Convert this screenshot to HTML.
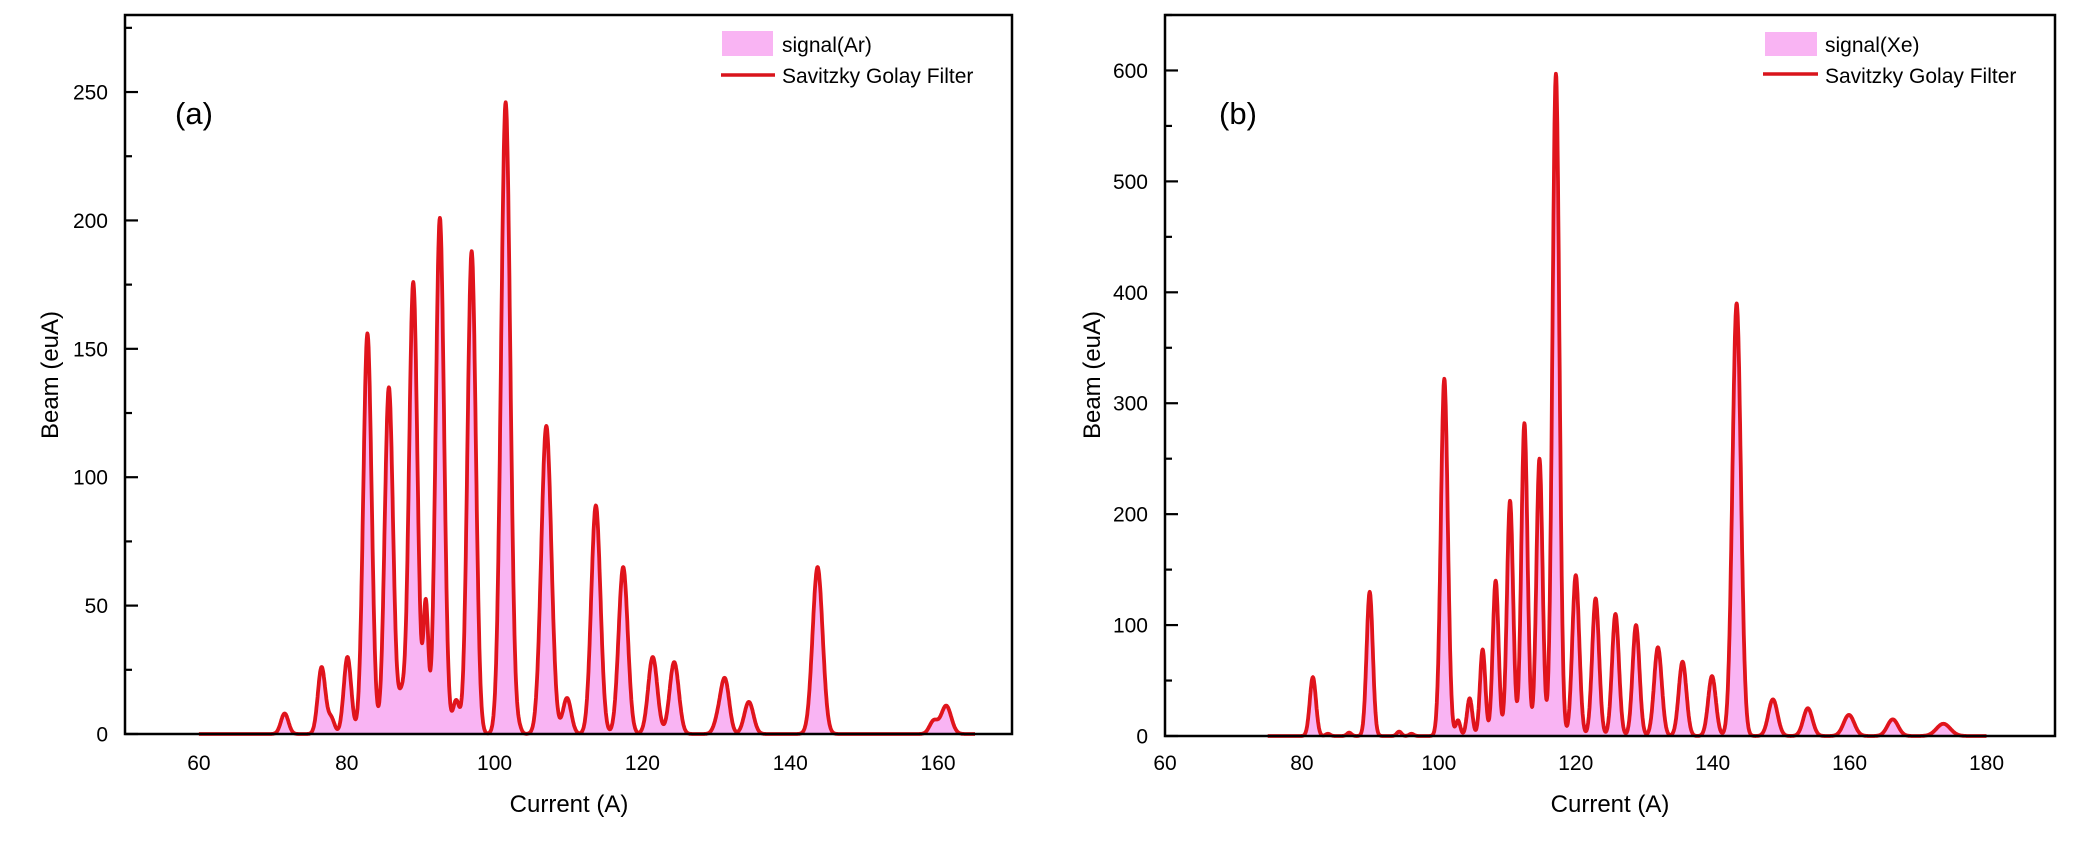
<!DOCTYPE html>
<html><head><meta charset="utf-8"><style>
html,body{margin:0;padding:0;background:#fff;}
svg{display:block;font-family:"Liberation Sans",Arial,sans-serif;}
</style></head><body>
<svg id="s" width="2089" height="843" viewBox="0 0 2089 843" xmlns="http://www.w3.org/2000/svg">
<rect width="2089" height="843" fill="#fff"/>
<g id="g"></g>
<text x="569" y="812" font-size="24" text-anchor="middle">Current (A)</text>
<text x="1610" y="812" font-size="24" text-anchor="middle">Current (A)</text>
<text transform="translate(58,375) rotate(-90)" font-size="24" text-anchor="middle">Beam (euA)</text>
<text transform="translate(1100,375) rotate(-90)" font-size="24" text-anchor="middle">Beam (euA)</text>
<text x="175" y="124" font-size="31">(a)</text>
<text x="1219" y="124" font-size="31">(b)</text>
<rect x="722" y="31" width="51" height="25" fill="#f9b4f3"/>
<line x1="721" y1="75" x2="775" y2="75" stroke="#d9141c" stroke-width="3.5"/>
<text x="782" y="52" font-size="21">signal(Ar)</text>
<text x="782" y="83" font-size="21">Savitzky Golay Filter</text>
<rect x="1765" y="32" width="52" height="24" fill="#f9b4f3"/>
<line x1="1763" y1="74" x2="1818" y2="74" stroke="#d9141c" stroke-width="3.5"/>
<text x="1825" y="52" font-size="21">signal(Xe)</text>
<text x="1825" y="83" font-size="21">Savitzky Golay Filter</text>
</svg>
<script>
var NS="http://www.w3.org/2000/svg",g=document.getElementById("g");
function el(t,a,txt){var e=document.createElementNS(NS,t);for(var k in a)e.setAttribute(k,a[k]);if(txt!=null)e.textContent=txt;g.appendChild(e);return e;}
function panel(o){
 var X=function(v){return o.x0+(v-o.xmin)/(o.xmax-o.xmin)*(o.x1-o.x0);};
 var Y=function(v){return o.y1-(v-o.ymin)/(o.ymax-o.ymin)*(o.y1-o.y0);};
 var pts=[];
 for(var x=o.ds;x<=o.de+1e-9;x+=0.05){var y=0;o.peaks.forEach(function(p){var d=(x-p[0])/(p[2]*o.sf);y+=p[1]*Math.exp(-0.5*d*d);});pts.push([X(x),Y(Math.max(0,y))]);}
 var line=pts.map(function(p,i){return (i?"L":"M")+p[0].toFixed(1)+" "+p[1].toFixed(1);}).join("");
 el("path",{d:line+"L"+pts[pts.length-1][0].toFixed(1)+" "+Y(0)+"L"+pts[0][0].toFixed(1)+" "+Y(0)+"Z",fill:"#f9b4f3"});
 el("path",{d:line,fill:"none",stroke:"#e0141c","stroke-width":3.8,"stroke-linejoin":"round"});
 el("rect",{x:o.x0,y:o.y0,width:o.x1-o.x0,height:o.y1-o.y0,fill:"none",stroke:"#000","stroke-width":2.5});
 for(var v=o.ymin;v<=o.ymax;v+=o.ymi){var maj=Math.abs(v/o.yma-Math.round(v/o.yma))<1e-6;var yy=Y(v);
  el("line",{x1:o.x0,y1:yy,x2:o.x0+(maj?13:7),y2:yy,stroke:"#000","stroke-width":2.2});
  if(maj)el("text",{x:o.x0-17,y:yy+7.5,"font-size":21,"text-anchor":"end"},String(v));}
 o.xt.forEach(function(v){var xx=X(v);
  el("text",{x:xx,y:770,"font-size":21,"text-anchor":"middle"},String(v));});
}
panel({x0:125,x1:1012,y0:15,y1:734,xmin:50,xmax:170,ymin:0,ymax:280,yma:50,ymi:25,xt:[60,80,100,120,140,160],ds:60,de:165,sf:1.13,
peaks:[[71.6,8,0.45],[76.6,26,0.45],[77.9,6,0.4],[80.1,30,0.45],[82.8,156,0.5],[85.7,135,0.5],[87.4,14,0.4],[89,176,0.5],[90.7,50,0.3],[92.6,201,0.5],[94.8,13,0.4],[96.9,188,0.5],[101.5,246,0.55],[103.3,2,0.3],[107,120,0.6],[109.8,14,0.5],[113.7,89,0.55],[117.4,65,0.55],[121.4,30,0.55],[124.3,28,0.55],[130.3,6,0.5],[131.2,20,0.5],[134.4,12.5,0.55],[143.7,65,0.6],[159.4,5,0.5],[161.1,11,0.6]]});
panel({x0:1165,x1:2055,y0:15,y1:736,xmin:60,xmax:190,ymin:0,ymax:650,yma:100,ymi:50,xt:[60,80,100,120,140,160,180],ds:75,de:180,sf:1.12,
peaks:[[81.6,53,0.4],[83.8,2,0.3],[86.9,3,0.3],[89.9,130,0.4],[94.2,4,0.3],[96,2,0.3],[100.8,322,0.45],[102.8,14,0.3],[104.5,34,0.35],[106.4,78,0.35],[108.3,140,0.38],[110.4,212,0.4],[112.5,282,0.4],[114.7,250,0.4],[117.1,597,0.45],[120,145,0.45],[122.9,124,0.45],[125.8,110,0.45],[128.8,100,0.45],[132,80,0.5],[135.6,67,0.5],[139.9,54,0.5],[143.5,390,0.55],[148.8,33,0.6],[153.9,25,0.6],[159.9,19,0.7],[166.3,15,0.7],[173.7,11,0.9]]});
</script>
</body></html>
